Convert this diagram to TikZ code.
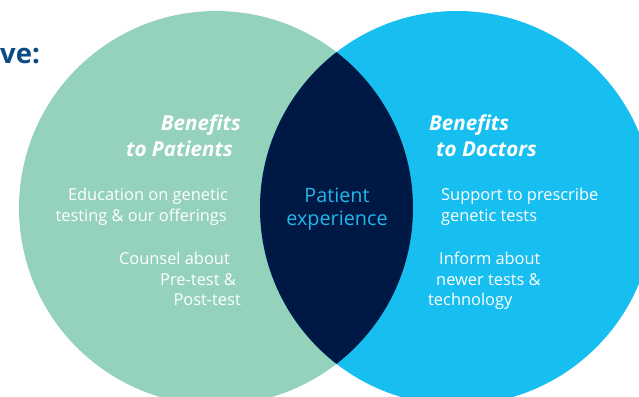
\documentclass[tikz,border=0pt]{standalone}
\usepackage{fontspec}
\setmainfont{Open Sans}
\definecolor{mint}{HTML}{94D2BB}
\definecolor{sky}{HTML}{17BFF0}
\definecolor{navy}{HTML}{001944}
\definecolor{titleblue}{HTML}{0B4A85}
\definecolor{midtext}{HTML}{22B6EA}
\tikzset{
  head/.style={inner sep=0pt, text=white, font=\fontsize{20.6bp}{24bp}\selectfont\bfseries\itshape},
  body/.style={inner sep=0pt, text=white, font=\fontsize{16.4bp}{19bp}\selectfont},
  core/.style={inner sep=0pt, text=midtext, font=\fontsize{19.8bp}{23bp}\selectfont},
}
\begin{document}
\begin{tikzpicture}[x=1bp,y=-1bp]
\useasboundingbox (0,0) rectangle (639,396);
\begin{scope}
  \clip (0,0) rectangle (639,396);
  % the two sets
  \fill[mint] (216,208) circle (197bp);
  \fill[sky] (457,208) circle (197bp);
  % their overlap
  \begin{scope}
    \clip (216,208) circle (197bp);
    \fill[navy] (457,208) circle (197bp);
  \end{scope}
\end{scope}
% tail of the slide heading
\node[anchor=base west, inner sep=0pt, text=titleblue,
      font=\fontsize{27.5bp}{33bp}\selectfont\bfseries] (title) at (0,63) {ve:};

% left set: patients
\node[head, anchor=base east] (bp1) at (241,130) {Benefits};
\node[head, anchor=base east] (bp2) at (233,156) {to Patients};
\node[body, anchor=base east] (p1) at (228,200) {Education on genetic};
\node[body, anchor=base east] (p2) at (227,221) {testing \& our offerings};
\node[body, anchor=base east] (p3) at (230,264) {Counsel about};
\node[body, anchor=base east] (p4) at (236,285) {Pre-test \&};
\node[body, anchor=base east] (p5) at (241,305) {Post-test};

% overlap
\node[core, anchor=base] (c1) at (337,202) {Patient};
\node[core, anchor=base] (c2) at (337,225) {experience};

% right set: doctors
\node[head, anchor=base west] (bd1) at (429,130) {Benefits};
\node[head, anchor=base west] (bd2) at (436,156) {to Doctors};
\node[body, anchor=base west] (d1) at (441,200) {Support to prescribe};
\node[body, anchor=base west] (d2) at (441,221) {genetic tests};
\node[body, anchor=base west] (d3) at (439,264) {Inform about};
\node[body, anchor=base west] (d4) at (436,285) {newer tests \&};
\node[body, anchor=base west] (d5) at (428,305) {technology};
\end{tikzpicture}
\end{document}
